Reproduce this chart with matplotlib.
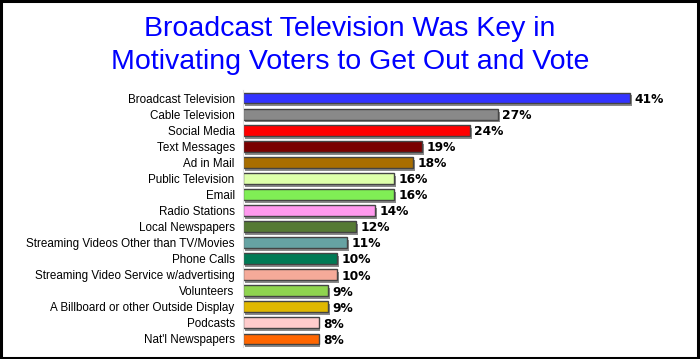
import matplotlib
matplotlib.use('Agg')
import matplotlib.pyplot as plt
from matplotlib.patches import Rectangle

categories = ['Broadcast Television', 'Cable Television', 'Social Media',
              'Text Messages', 'Ad in Mail', 'Public Television', 'Email',
              'Radio Stations', 'Local Newspapers',
              'Streaming Videos Other than TV/Movies', 'Phone Calls',
              'Streaming Video Service w/advertising', 'Volunteers',
              'A Billboard or other Outside Display', 'Podcasts',
              "Nat'l Newspapers"]
values = [41, 27, 24, 19, 18, 16, 16, 14, 12, 11, 10, 10, 9, 9, 8, 8]
colors = ['#3333FF', '#898989', '#FF0000', '#7A0000', '#A86E00', '#DDFFAA',
          '#80EE55', '#FF99EE', '#557A33', '#66A3A3', '#007A55', '#F5AA99',
          '#8FD44F', '#E0B800', '#FFCCCC', '#FF6600']

fig = plt.figure(figsize=(7, 3.59), dpi=100)
fig.patches.append(Rectangle((0.002, 0.004), 0.995, 0.993, transform=fig.transFigure,
                             fill=False, edgecolor='black', linewidth=2.2))

fig.text(0.5, 0.918, 'Broadcast Television Was Key in', ha='center', va='center',
         color='#0000FF', fontsize=20.5, family='Liberation Sans')
fig.text(0.5, 0.826, 'Motivating Voters to Get Out and Vote', ha='center', va='center',
         color='#0000FF', fontsize=20.5, family='Liberation Sans')

ax = fig.add_axes([243 / 700, 12 / 359, 425 / 700, 257 / 359])
y = list(range(len(categories)))
# drop shadows
ax.barh([v + 0.18 for v in y], values, left=0.2, height=0.68, color='#8a8a8a',
        edgecolor='none', zorder=1)
ax.barh(y, values, height=0.68, color=colors, edgecolor='#444444', linewidth=1.0, zorder=2)
for yi, v in zip(y, values):
    ax.text(v + 0.45, yi + 0.08, f'{v}%', va='center', ha='left', fontsize=8.8,
            fontweight='bold', family='DejaVu Sans', color='black')

ax.set_xlim(0, 45)
ax.set_ylim(15.5, -0.5)
ax.set_yticks(y)
ax.set_yticklabels(categories, fontsize=8.4, family='Liberation Sans')
ax.tick_params(axis='y', length=0, pad=6)
ax.set_xticks([])
for s in ['top', 'right', 'bottom']:
    ax.spines[s].set_visible(False)
ax.spines['left'].set_color('#e0e0e0')
ax.spines['left'].set_linewidth(0.8)

fig.savefig('out.png', dpi=100)
